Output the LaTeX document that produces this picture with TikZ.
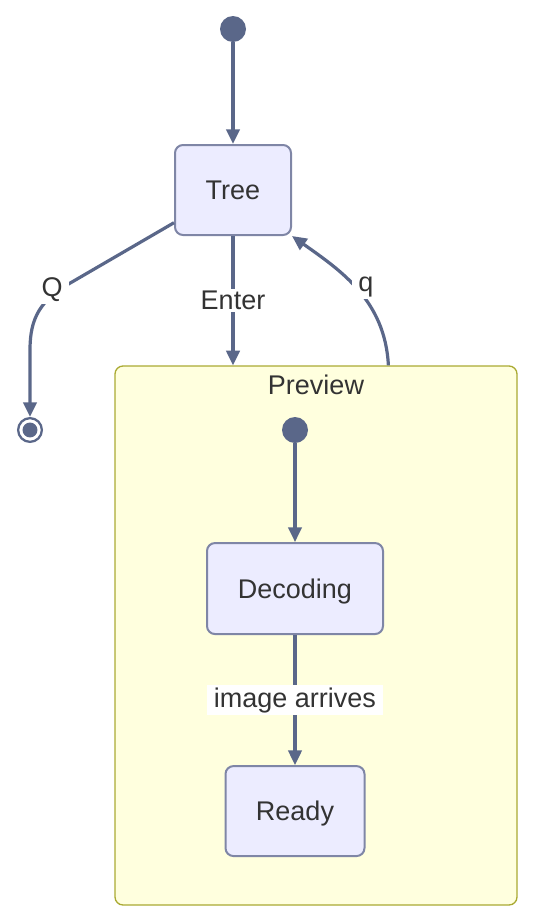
\documentclass[tikz,border=0pt]{standalone}
\usepackage{fontspec}
\setmainfont{Liberation Sans}
\usetikzlibrary{positioning}
\usetikzlibrary{arrows.meta}

\definecolor{edgegray}{HTML}{5A6789}
\definecolor{stateborder}{HTML}{7F86A6}
\definecolor{statefill}{HTML}{ECECFF}
\definecolor{clusterfill}{HTML}{FFFFDE}
\definecolor{clusterborder}{HTML}{AAAA33}
\definecolor{textgray}{HTML}{333333}

\tikzset{
	statebox/.style={draw=stateborder, fill=statefill, line width=1.5pt,
		rounded corners=6pt, text=textgray, minimum width=87pt,
		minimum height=67.5pt, text height=14.6pt, text depth=0pt,
		font=\fontsize{20.25}{24}\selectfont},
	startdot/.style={circle, fill=edgegray, minimum size=19.5pt, inner sep=0pt},
	enddot/.style={circle, draw=edgegray, fill=white, line width=1.7pt,
		minimum size=17.8pt, inner sep=0pt,
		path picture={\fill[edgegray] (path picture bounding box.center) circle (5.6pt);}},
	cluster/.style={draw=clusterborder, fill=clusterfill, line width=1pt,
		rounded corners=6pt, minimum width=301.5pt, minimum height=404.25pt},
	lbl/.style={fill=white, text=textgray, inner xsep=5pt, inner ysep=1.5pt,
		font=\fontsize{20.25}{24}\selectfont},
	trans/.style={draw=edgegray, line width=2.4pt}
}

\begin{document}
\begin{tikzpicture}[x=0.75pt, y=-0.75pt, on grid,
	>={Triangle[length=11pt, width=10pt]}]
	\useasboundingbox (0,0) rectangle (534,922);

	% outer states
	\node[startdot] (start) at (233,29) {};
	\node[statebox] (tree) [below=120.75pt of start] {Tree};
	\node[enddot] (end) at (30,430) {};

	% composite state
	\node[cluster] (preview) at (316,635.5) {};
	\node[lbl, fill=none] (previewlbl) at (316,385) {Preview};
	\node[startdot] (inner) at (295,430) {};
	\node[statebox, minimum width=132pt, minimum height=68.25pt] (decoding) [below=118.9pt of inner] {Decoding};
	\node[statebox, minimum width=104.25pt] (ready) [below=166.9pt of decoding] {Ready};

	\draw[->, trans] (start) -- (tree);
	\draw[->, trans] (tree.south) -- node[lbl] (enterlbl) {Enter} (tree.south |- preview.north);
	\draw[->, trans] (inner) -- (decoding);
	\draw[->, trans] (decoding) -- node[lbl] (arriveslbl) {image arrives} (ready);

	\draw[->, trans] (tree.209) -- (72,282) .. controls (40,300) and (30,318) .. (30,350) -- (end);
	\node[lbl] (quitlbl) at (52,290) {Q};

	\draw[->, trans] (preview.75.6) .. controls (385,300) and (340,270) .. (tree.south east);
	\node[lbl] (backlbl) at (366,287) {q};
\end{tikzpicture}
\end{document}
